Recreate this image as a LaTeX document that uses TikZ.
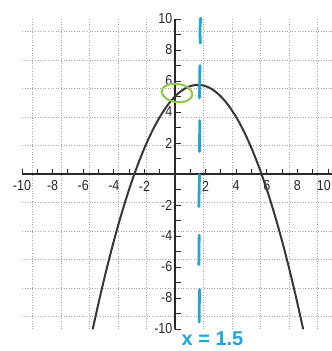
\documentclass[tikz,border=0pt]{standalone}
\usepackage{fontspec}
\setmainfont{Liberation Sans}
\definecolor{gridgray}{RGB}{165,165,165}
\definecolor{curvegray}{RGB}{55,55,55}
\definecolor{axisgray}{RGB}{40,40,40}
\definecolor{penblue}{RGB}{30,165,220}
\definecolor{pengreen}{RGB}{145,200,70}
\begin{document}
\begin{tikzpicture}[x=15.3pt,y=15.5pt,
  gridline/.style={gridgray, dotted, line width=0.6pt},
  axisline/.style={axisgray, line width=1.1pt},
  tickmark/.style={axisgray, line width=0.9pt},
  ticklabel/.style={font=\fontsize{14.5}{15}\selectfont, text=axisgray, inner sep=0pt, xscale=0.86},
  curveline/.style={curvegray, line width=2pt, line cap=round},
  blueline/.style={penblue, line width=2.8pt, line cap=round},
  greenring/.style={pengreen, line width=2pt},
  handlabel/.style={font=\bfseries\fontsize{20}{20}\selectfont, text=penblue, inner sep=0pt, text height=14pt, text depth=0pt}]
\path[use as bounding box] (-175pt,-177pt) rectangle (157pt,174pt);
\clip (-175pt,-177pt) rectangle (157pt,174pt);
% grid
\draw[gridline] (-10,-10) grid (10.4,10);
% axes
\draw[axisline] (-10,0) -- (10.4,0);
\draw[axisline] (0,-10) -- (0,10);
% ticks
\foreach \t in {-10,...,10} {
  \draw[tickmark] (\t,0) -- ++(0,5.5pt);
  \draw[tickmark] (0,\t) -- ++(6pt,0);
}
% x labels
\foreach \t in {-10,-8,-6,-4,-2,2,4,6,8} {
  \node[ticklabel] (xl\t) at ([yshift=-12pt]\t,0) {\t};
}
\node[ticklabel, anchor=east] (xl10) at ([yshift=-12pt]156pt,0) {10};
% y labels
\foreach \t in {-10,-8,-6,-4,-2,2,4,6,8,10} {
  \node[ticklabel, anchor=east] (yl\t) at ([xshift=-2.5pt]0,\t) {\t};
}
% parabola
\draw[curveline] plot[domain=-5.37:8.37, samples=120, smooth] (\x, {-\x*\x/3+\x+5});
% axis of symmetry (hand-drawn dashes)
\draw[blueline] (1.68,10.05) .. controls (1.62,9.3) .. (1.66,8.45);
\draw[blueline] (1.63,7.0) -- (1.6,4.9);
\draw[blueline] (1.62,3.45) -- (1.6,1.45);
\draw[blueline] (1.6,-0.05) -- (1.56,-2.1);
\draw[blueline] (1.58,-3.95) -- (1.56,-5.85);
\draw[blueline] (1.6,-7.45) -- (1.58,-9.55);
% circled y-intercept
\draw[greenring, rotate around={-8:(0.13,5.23)}] (0.13,5.23) ellipse (15.5pt and 9pt);
% label
\node[handlabel, anchor=south] (lab) at (2.45,-11.05) {x = 1.5};
\end{tikzpicture}
\end{document}
